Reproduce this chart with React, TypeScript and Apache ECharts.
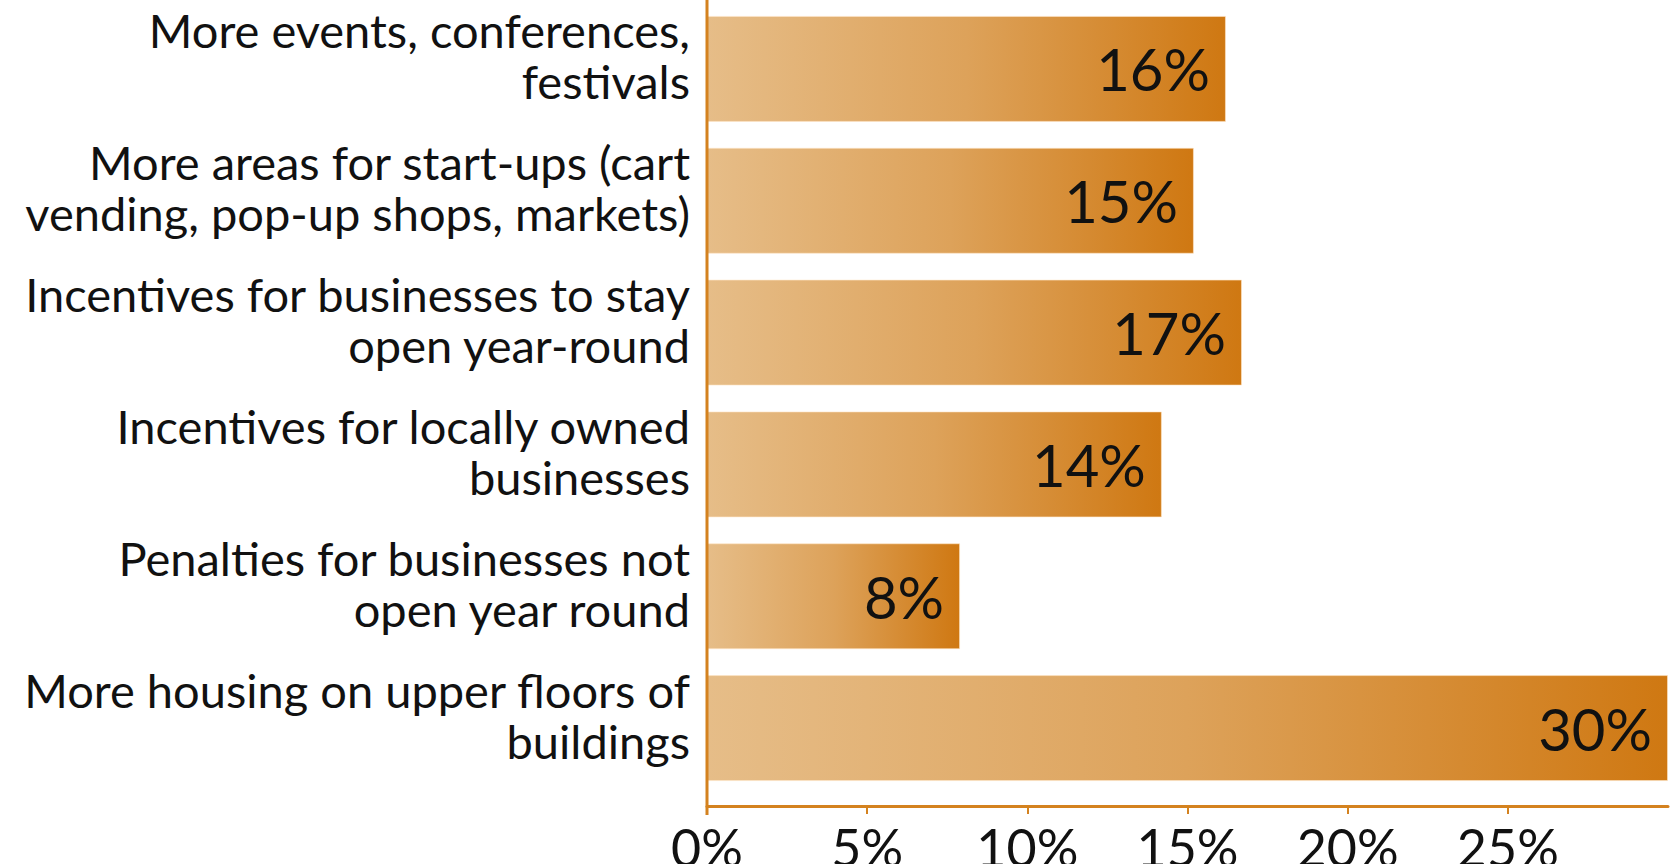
import React, { useEffect, useRef } from "react";
import * as echarts from "echarts";

const categories: string[] = [
  "More events, conferences,\nfestivals",
  "More areas for start-ups (cart\nvending, pop-up shops, markets)",
  "Incentives for businesses to stay\nopen year-round",
  "Incentives for locally owned\nbusinesses",
  "Penalties for businesses not\nopen year round",
  "More housing on upper floors of\nbuildings",
];
const values: number[] = [16.2, 15.2, 16.7, 14.2, 7.9, 30];
const axisMax = 30;
const axisInterval = 5;

const FONT = "Lato";
const AXIS_COLOR = "#D4821F";
const TEXT_COLOR = "#111111";

export default function App() {
  const ref = useRef<HTMLDivElement>(null);
  useEffect(() => {
    if (!ref.current) return;
    const chart = echarts.init(ref.current, undefined, { renderer: "svg" });
    const gridLeft = 707;
    const gridTop = 3;
    const gridBottom = 70;
    chart.setOption({
      animation: false,
      textStyle: { fontFamily: FONT },
      grid: {
        left: gridLeft,
        right: 6,
        top: gridTop,
        bottom: gridBottom,
        containLabel: false,
        outerBoundsMode: "none",
      },
      xAxis: {
        type: "value",
        min: 0,
        max: axisMax,
        interval: axisInterval,
        offset: 12,
        axisLine: { show: true, lineStyle: { color: AXIS_COLOR, width: 3 } },
        axisTick: { show: true, length: 8, lineStyle: { color: AXIS_COLOR, width: 2 } },
        splitLine: { show: false },
        axisLabel: {
          showMaxLabel: false,
          formatter: (v: number) => `${v}%`,
          color: TEXT_COLOR,
          fontFamily: FONT,
          fontSize: 52,
          margin: 15,
        },
      },
      yAxis: {
        type: "category",
        data: categories,
        inverse: true,
        axisLine: { show: false },
        axisTick: { show: false },
        axisLabel: {
          margin: 17,
          align: "right",
          formatter: (v: string) =>
            v
              .split("\n")
              .map((l) => `{t|${l}}`)
              .join("\n") + "\n{s| }",
          rich: {
            t: {
              color: TEXT_COLOR,
              fontFamily: FONT,
              fontSize: 47,
              lineHeight: 51,
            },
            s: { fontSize: 10, lineHeight: 26 },
          },
        },
      },
      graphic: [
        {
          type: "line",
          shape: { x1: gridLeft, y1: 0, x2: gridLeft, y2: 815 },
          style: { stroke: AXIS_COLOR, lineWidth: 3 },
          z: 100,
        },
      ],
      series: [
        {
          type: "bar",
          data: values,
          barCategoryGap: "19.6%",
          itemStyle: {
            color: new echarts.graphic.LinearGradient(0, 0, 1, 0, [
              { offset: 0, color: "#E6BD88" },
              { offset: 0.5, color: "#DDA25A" },
              { offset: 1, color: "#CF7812" },
            ]),
            borderColor: "rgba(255,230,200,0.6)",
            borderWidth: 1,
          },
          label: {
            show: true,
            position: "insideRight",
            distance: 16,
            formatter: (p: any) => `${Math.round(p.value)}%`,
            color: TEXT_COLOR,
            fontFamily: FONT,
            fontSize: 58,
          },
        },
      ],
    });
    return () => chart.dispose();
  }, []);
  return (
    <div
      ref={ref}
      style={{ position: "fixed", left: 0, top: 0, width: 1674, height: 864, background: "#fff" }}
    />
  );
}
